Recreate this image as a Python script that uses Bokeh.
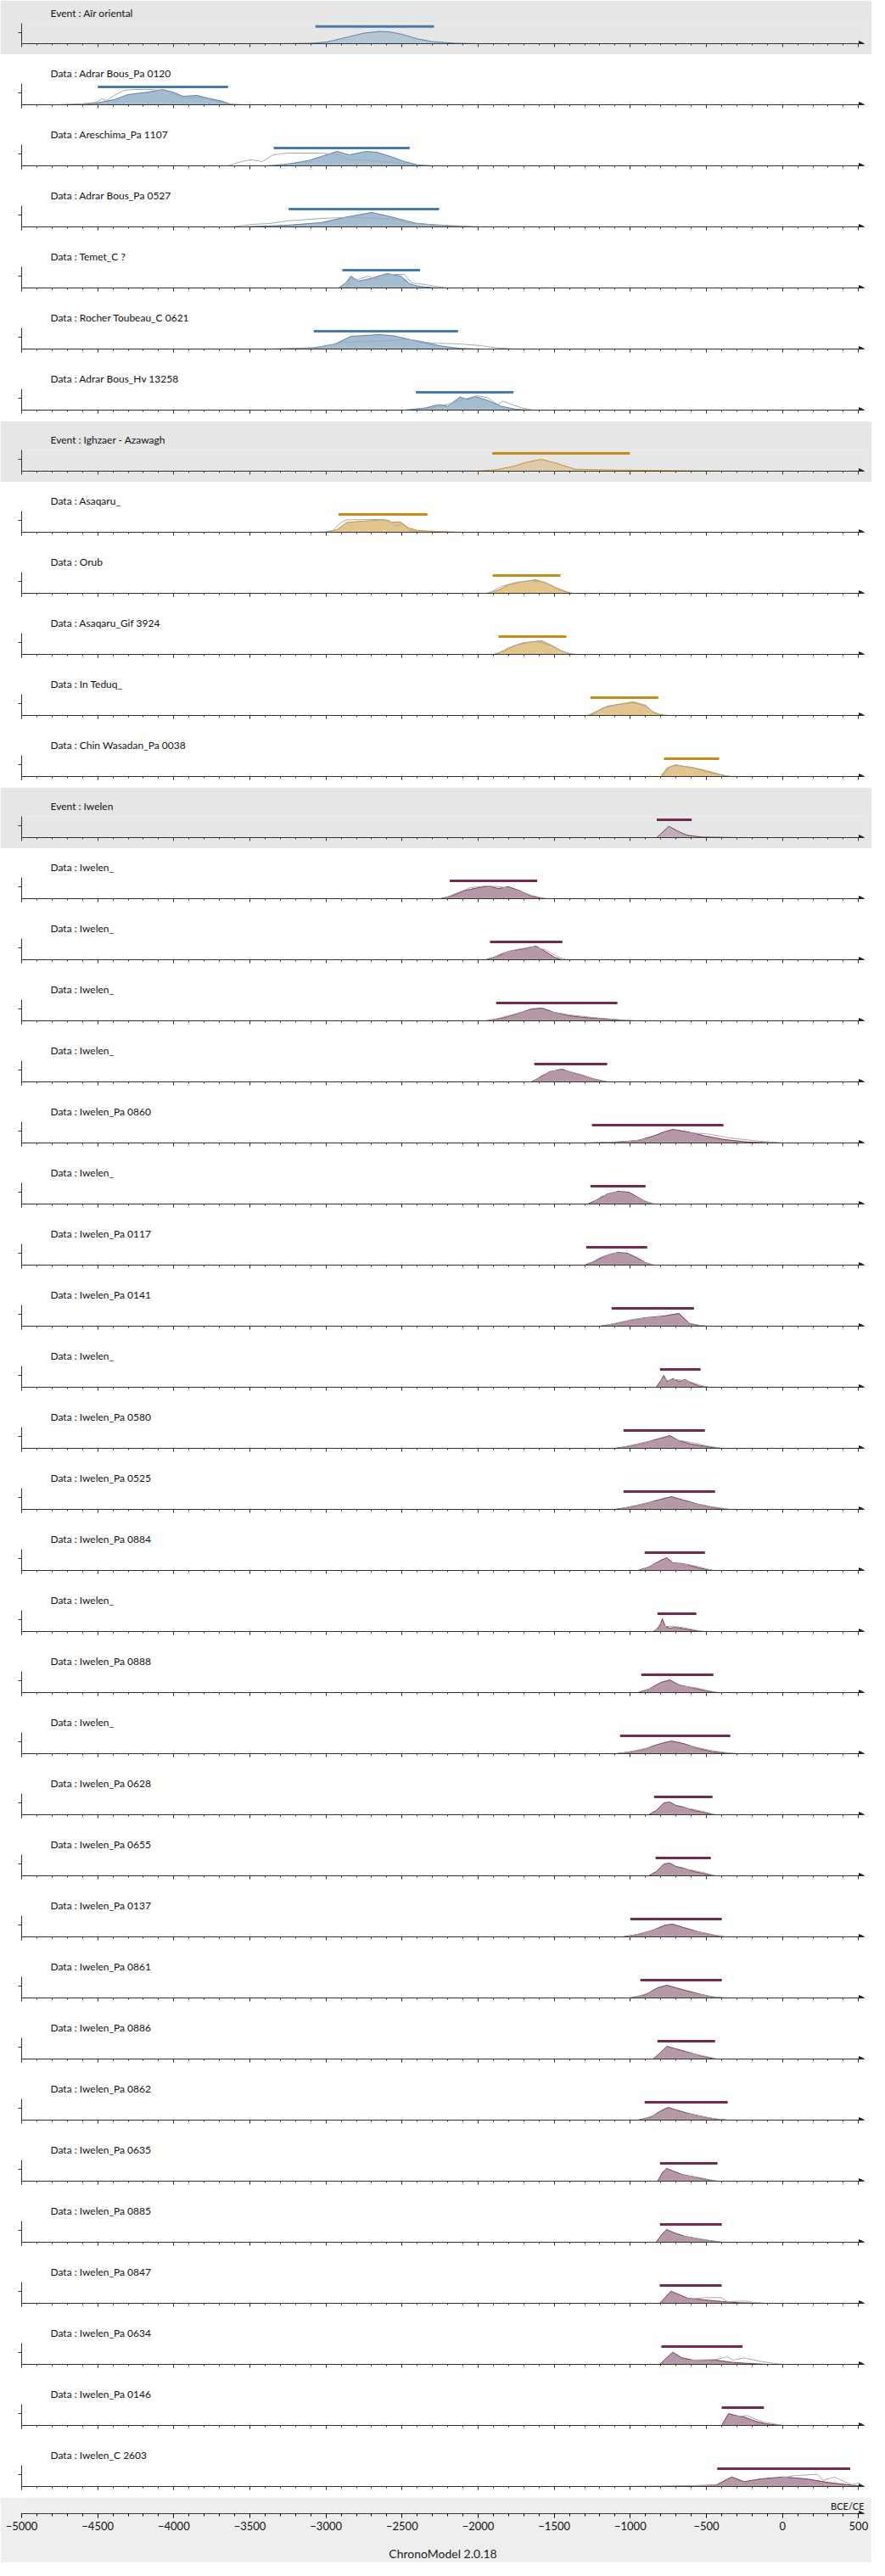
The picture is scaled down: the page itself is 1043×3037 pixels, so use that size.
from bokeh.plotting import figure
from bokeh.layouts import column
from bokeh.models import (Range1d, SingleIntervalTicker, FixedTicker, Arrow, NormalHead, Label,
                          CustomLabelingPolicy)
from bokeh.embed import file_html
from bokeh.resources import INLINE

# ---------------- data ----------------
labels = [
    "Event : Aïr oriental", "Data : Adrar Bous_Pa 0120", "Data : Areschima_Pa 1107",
    "Data : Adrar Bous_Pa 0527", "Data : Temet_C ?", "Data : Rocher Toubeau_C 0621",
    "Data : Adrar Bous_Hv 13258",
    "Event : Ighzaer - Azawagh", "Data : Asaqaru_", "Data : Orub", "Data : Asaqaru_Gif 3924",
    "Data : In Teduq_", "Data : Chin Wasadan_Pa 0038",
    "Event : Iwelen", "Data : Iwelen_", "Data : Iwelen_", "Data : Iwelen_", "Data : Iwelen_",
    "Data : Iwelen_Pa 0860", "Data : Iwelen_", "Data : Iwelen_Pa 0117", "Data : Iwelen_Pa 0141",
    "Data : Iwelen_", "Data : Iwelen_Pa 0580", "Data : Iwelen_Pa 0525", "Data : Iwelen_Pa 0884",
    "Data : Iwelen_", "Data : Iwelen_Pa 0888", "Data : Iwelen_", "Data : Iwelen_Pa 0628",
    "Data : Iwelen_Pa 0655", "Data : Iwelen_Pa 0137", "Data : Iwelen_Pa 0861",
    "Data : Iwelen_Pa 0886", "Data : Iwelen_Pa 0862", "Data : Iwelen_Pa 0635",
    "Data : Iwelen_Pa 0885", "Data : Iwelen_Pa 0847", "Data : Iwelen_Pa 0634",
    "Data : Iwelen_Pa 0146", "Data : Iwelen_C 2603",
]
groups = [0] * 7 + [1] * 6 + [2] * 28

hpd_start = [-3070, -4500, -3343, -3245, -2893, -3080, -2409,
             -1907, -2918, -1905, -1866, -1262, -779,
             -826, -2186, -1921, -1882, -1631, -1252, -1262, -1290, -1123, -805, -1045,
             -1045, -906, -822, -928, -1067, -844, -834, -1000, -934, -822, -906, -805,
             -805, -807, -796, -400, -429]
hpd_end = [-2290, -3643, -2450, -2257, -2382, -2132, -1768,
           -1003, -2333, -1459, -1420, -816, -416,
           -597, -1612, -1446, -1085, -1152, -388, -900, -889, -582, -538, -510,
           -443, -510, -566, -454, -343, -460, -471, -399, -399, -443, -360, -427,
           -399, -400, -263, -122, 445]

# posterior densities (year, density)
density = [
    [(-3300, 0), (-3100, 0.5), (-3000, 2), (-2950, 4), (-2860, 8), (-2750, 13), (-2650, 15), (-2580, 14.5), (-2500, 11.5), (-2400, 6), (-2300, 2.5), (-2150, 0.6), (-2000, 0)],
    [(-4760, 0), (-4620, 0.8), (-4507, 2), (-4393, 6), (-4302, 12), (-4166, 15), (-4075, 18), (-4007, 15), (-3939, 10), (-3848, 11), (-3780, 8), (-3689, 4.5), (-3620, 0.5), (-3530, 0)],
    [(-3400, 0), (-3348, 0.5), (-3257, 2), (-3120, 6), (-3030, 11), (-2927, 17), (-2848, 13), (-2734, 17), (-2666, 16), (-2575, 11), (-2484, 5), (-2393, 1), (-2302, 0)],
    [(-3550, 0), (-3484, 0.5), (-3257, 2), (-3030, 5), (-2870, 11.5), (-2700, 17), (-2575, 12), (-2416, 4.5), (-2234, 1.6), (-2120, 0.5), (-2000, 0)],
    [(-2916, 0), (-2870, 6), (-2836, 14), (-2791, 8), (-2711, 11), (-2598, 17), (-2507, 14), (-2450, 5), (-2393, 2), (-2302, 0.5), (-2230, 0)],
    [(-3348, 0), (-3075, 1.6), (-2939, 6), (-2836, 15), (-2643, 17), (-2552, 15.5), (-2393, 9), (-2234, 3.3), (-2120, 0.8), (-2000, 0)],
    [(-2484, 0), (-2348, 2.5), (-2257, 6.5), (-2200, 4.5), (-2120, 15.5), (-2075, 12.7), (-2018, 16), (-1939, 11.5), (-1848, 4.5), (-1757, 1.2), (-1670, 0)],
    [(-2700, 0), (-2300, 0.2), (-1992, 0.3), (-1881, 1.7), (-1770, 5.7), (-1678, 10.7), (-1585, 14), (-1492, 9.7), (-1363, 2.3), (-1104, 1.3), (-733, 0.7), (-363, 0.2), (-180, 0)],
    [(-3100, 0), (-2992, 0.3), (-2926, 3.3), (-2863, 11.7), (-2733, 13.3), (-2622, 15), (-2567, 11.7), (-2511, 12.3), (-2456, 5), (-2400, 2.3), (-2289, 1), (-2100, 0)],
    [(-1950, 0), (-1880, 3), (-1800, 10), (-1700, 14), (-1620, 16), (-1550, 12), (-1480, 6), (-1420, 2), (-1380, 0)],
    [(-1900, 0), (-1830, 4), (-1750, 11), (-1650, 15), (-1580, 16), (-1520, 11), (-1450, 4), (-1400, 1), (-1350, 0)],
    [(-1280, 0), (-1220, 5), (-1150, 11), (-1050, 14), (-980, 16), (-900, 12), (-850, 4), (-800, 1), (-750, 0)],
    [(-800, 0), (-760, 10), (-700, 14), (-650, 12), (-580, 10), (-500, 6), (-430, 3), (-380, 1), (-330, 0)],
    [(-826, 0), (-747, 13.3), (-685, 7.3), (-630, 3), (-535, 0.7), (-402, 0.3), (-300, 0)],
    [(-2250, 0), (-2180, 3), (-2100, 9), (-2000, 13), (-1930, 15), (-1870, 12), (-1800, 14), (-1720, 9), (-1650, 3), (-1600, 1), (-1550, 0)],
    [(-1950, 0), (-1880, 4), (-1800, 10), (-1700, 13), (-1620, 16), (-1560, 10), (-1500, 3), (-1450, 0)],
    [(-1950, 0), (-1850, 3), (-1750, 8), (-1650, 14), (-1580, 15), (-1500, 10), (-1400, 6), (-1300, 4), (-1150, 2), (-1000, 0)],
    [(-1650, 0), (-1600, 5), (-1530, 12), (-1450, 15), (-1380, 11), (-1300, 7), (-1230, 3), (-1150, 0)],
    [(-1300, 0), (-1100, 1), (-950, 3), (-850, 8), (-780, 13), (-720, 16), (-620, 13), (-500, 8), (-380, 4), (-220, 1), (0, 0)],
    [(-1280, 0), (-1220, 5), (-1150, 12), (-1080, 15), (-1010, 14), (-950, 8), (-900, 3), (-850, 0)],
    [(-1300, 0), (-1230, 5), (-1150, 12), (-1080, 15), (-1020, 14), (-960, 9), (-900, 3), (-850, 0)],
    [(-1200, 0), (-1100, 3), (-1000, 7), (-900, 10), (-780, 12), (-680, 15), (-610, 3), (-550, 1), (-500, 0)],
    [(-830, 0), (-800, 8), (-780, 14), (-760, 7), (-720, 10), (-680, 7), (-640, 9), (-600, 5), (-540, 1), (-500, 0)],
    [(-1100, 0), (-1000, 3), (-900, 7), (-800, 12), (-740, 15), (-680, 9), (-600, 5), (-500, 2), (-400, 0)],
    [(-1100, 0), (-1000, 3), (-900, 7), (-800, 12), (-730, 15), (-650, 11), (-550, 6), (-450, 2), (-350, 0)],
    [(-950, 0), (-880, 4), (-800, 12), (-760, 15), (-720, 9), (-650, 8), (-570, 4), (-500, 1), (-450, 0)],
    [(-850, 0), (-810, 5), (-790, 15), (-770, 6), (-740, 4), (-700, 5), (-640, 3), (-570, 1), (-520, 0)],
    [(-950, 0), (-880, 4), (-800, 12), (-740, 15), (-680, 9), (-600, 6), (-500, 2), (-430, 0)],
    [(-1100, 0), (-1000, 2), (-900, 6), (-800, 12), (-730, 15), (-650, 12), (-550, 6), (-450, 2), (-350, 0.5), (-300, 0)],
    [(-880, 0), (-830, 5), (-780, 14), (-740, 15), (-700, 11), (-650, 9), (-580, 5), (-500, 2), (-450, 0)],
    [(-880, 0), (-830, 5), (-780, 14), (-740, 15), (-700, 11), (-650, 9), (-580, 5), (-500, 2), (-450, 0)],
    [(-1050, 0), (-950, 3), (-850, 8), (-770, 14), (-720, 15), (-650, 11), (-550, 6), (-450, 2), (-380, 0)],
    [(-1000, 0), (-900, 4), (-820, 12), (-760, 15), (-700, 12), (-620, 8), (-530, 4), (-450, 1), (-380, 0)],
    [(-850, 0), (-800, 8), (-760, 15), (-720, 13), (-660, 10), (-580, 6), (-500, 2), (-440, 0)],
    [(-950, 0), (-860, 4), (-800, 11), (-750, 15), (-700, 12), (-620, 8), (-520, 4), (-430, 1), (-360, 0)],
    [(-820, 0), (-790, 10), (-760, 15), (-720, 12), (-660, 8), (-580, 5), (-500, 2), (-430, 0)],
    [(-830, 0), (-790, 10), (-760, 15), (-710, 11), (-640, 7), (-550, 4), (-460, 1.5), (-400, 0)],
    [(-807, 0), (-733, 14.3), (-622, 6), (-437, 2.7), (-289, 0.7), (-100, 0)],
    [(-807, 0), (-722, 14.3), (-660, 7.7), (-585, 5), (-437, 5), (-326, 2.3), (-178, 0.7), (-100, 0)],
    [(-400, 0), (-355, 14), (-307, 11.7), (-252, 10), (-178, 5), (-104, 1.7), (0, 0)],
    [(-1103, 0), (-733, 0.3), (-437, 1.7), (-333, 11.3), (-252, 5.7), (-141, 9), (7, 11.3), (156, 9), (304, 4.7), (452, 1.7), (508, 0.5)],
]

# individual calibrated dates (year, density)
calibration = [
    [],
    [(-4620, 0.5), (-4507, 3), (-4473, 7), (-4439, 5), (-4393, 11), (-4325, 17), (-4257, 18), (-4166, 18), (-4075, 17), (-4007, 14), (-3939, 7), (-3848, 9), (-3780, 7), (-3712, 3.7), (-3643, 1.2), (-3600, 0)],
    [(-3643, 0), (-3575, 4), (-3530, 6), (-3484, 7), (-3416, 5), (-3348, 13), (-3257, 15), (-3030, 15), (-2916, 13), (-2848, 7), (-2734, 7), (-2575, 4), (-2461, 1.6), (-2350, 0)],
    [(-3620, 0), (-3484, 3), (-3370, 4), (-3257, 7), (-3030, 10), (-2802, 11.5), (-2575, 9.4), (-2461, 5), (-2348, 3), (-2120, 1.2), (-2000, 0)],
    [(-2870, 0), (-2836, 12), (-2791, 10), (-2723, 14), (-2666, 10), (-2575, 16), (-2484, 16), (-2439, 6), (-2348, 4), (-2280, 2), (-2210, 0)],
    [(-3370, 0), (-3075, 1), (-2870, 8), (-2689, 9), (-2461, 11.5), (-2302, 7), (-2120, 6), (-1984, 4), (-1893, 1.6), (-1760, 0)],
    [(-2348, 0.5), (-2257, 4.5), (-2166, 8.6), (-2098, 12.7), (-2007, 16.8), (-1939, 14.7), (-1871, 6.5), (-1836, 10.6), (-1791, 7.4), (-1712, 2.5), (-1640, 0)],
    [],
    [(-3010, 0), (-2955, 2.3), (-2900, 11.7), (-2863, 14.7), (-2659, 15), (-2585, 14), (-2548, 7), (-2493, 10), (-2456, 2.3), (-2370, 0)],
    [(-1930, 0), (-1850, 8), (-1750, 13), (-1650, 15), (-1560, 13), (-1480, 5), (-1400, 0)],
    [(-1880, 0), (-1800, 8), (-1700, 14), (-1600, 15), (-1520, 10), (-1440, 3), (-1380, 0)],
    [(-1260, 0), (-1180, 9), (-1080, 13), (-980, 15), (-900, 11), (-840, 3), (-780, 0)],
    [(-790, 0), (-740, 12), (-680, 13), (-600, 11), (-500, 7), (-420, 3), (-350, 0)],
    [],
    [(-2230, 0), (-2150, 6), (-2050, 13), (-1950, 15), (-1850, 14), (-1750, 10), (-1650, 4), (-1560, 0)],
    [(-1930, 0), (-1850, 7), (-1750, 12), (-1650, 15), (-1560, 12), (-1480, 4), (-1420, 0)],
    [(-1930, 0), (-1800, 6), (-1700, 11), (-1600, 12), (-1500, 10), (-1400, 7), (-1250, 4), (-1050, 1), (-950, 0)],
    [(-1640, 0), (-1580, 8), (-1500, 13), (-1420, 13), (-1330, 9), (-1250, 4), (-1150, 0)],
    [(-1250, 0), (-1000, 2), (-850, 6), (-750, 10), (-650, 12), (-500, 11), (-350, 6), (-200, 3), (0, 0)],
    [(-1260, 0), (-1190, 9), (-1100, 14), (-1020, 13), (-950, 7), (-880, 2), (-840, 0)],
    [(-1280, 0), (-1200, 9), (-1110, 14), (-1030, 13), (-960, 7), (-890, 2), (-840, 0)],
    [(-1180, 0), (-1080, 4), (-980, 8), (-880, 10), (-780, 11), (-700, 11), (-620, 4), (-520, 0)],
    [(-820, 0), (-790, 10), (-750, 8), (-700, 9), (-650, 8), (-600, 6), (-530, 2), (-480, 0)],
    [(-1080, 0), (-980, 4), (-880, 8), (-780, 10), (-700, 10), (-600, 7), (-500, 3), (-400, 0)],
    [(-1080, 0), (-980, 4), (-880, 8), (-780, 10), (-680, 10), (-580, 7), (-460, 3), (-350, 0)],
    [(-930, 0), (-860, 6), (-780, 10), (-700, 8), (-620, 7), (-540, 4), (-460, 0)],
    [(-840, 0), (-800, 10), (-770, 6), (-720, 6), (-660, 5), (-580, 2), (-520, 0)],
    [(-930, 0), (-850, 6), (-760, 10), (-680, 8), (-580, 6), (-480, 2), (-420, 0)],
    [(-1080, 0), (-980, 3), (-850, 8), (-720, 11), (-600, 9), (-480, 4), (-360, 1), (-300, 0)],
    [(-860, 0), (-800, 8), (-740, 10), (-680, 8), (-600, 7), (-500, 3), (-440, 0)],
    [(-860, 0), (-800, 8), (-740, 10), (-680, 8), (-600, 7), (-500, 3), (-440, 0)],
    [(-1030, 0), (-930, 4), (-820, 9), (-720, 10), (-620, 8), (-500, 4), (-380, 0)],
    [(-980, 0), (-880, 6), (-790, 10), (-700, 9), (-600, 6), (-480, 2), (-380, 0)],
    [(-840, 0), (-790, 9), (-740, 10), (-660, 8), (-560, 5), (-470, 2), (-430, 0)],
    [(-930, 0), (-840, 6), (-760, 10), (-680, 9), (-580, 6), (-460, 2), (-360, 0)],
    [(-810, 0), (-770, 9), (-720, 9), (-640, 7), (-540, 4), (-460, 1), (-420, 0)],
    [(-820, 0), (-770, 9), (-710, 8), (-620, 6), (-520, 3), (-430, 1), (-390, 0)],
    [(-770, 0), (-696, 6), (-585, 5.3), (-511, 6.7), (-400, 6.7), (-363, 2), (-252, 2.7), (-178, 0.7), (-120, 0)],
    [(-770, 0), (-696, 3.3), (-585, 5), (-437, 5.7), (-363, 9), (-326, 5), (-252, 7.7), (-141, 3.3), (-48, 1), (0, 0)],
    [(-380, 0), (-326, 10), (-233, 11.7), (-178, 7.3), (-122, 4), (-48, 1.7), (0, 0)],
    [(-880, 0), (-437, 1.3), (-289, 4), (-67, 8.3), (82, 13), (230, 14.3), (267, 7.3), (341, 11), (452, 2.3), (508, 4)],
]

group_colors = ["#4a7ba6", "#c98a1c", "#6e2d50"]
bg_event = "#e6e6e6"
bg_data = "#ffffff"
bg_axis = "#eeeeee"
FONT = "Lato"

X0, X1 = -5000, 537
W = 1027
ROW_H = 72

NO_LABELS = "for (const i of indices) indices.unset(i)\nreturn indices"


def hide_labels(axis):
    axis.major_label_policy = CustomLabelingPolicy(code=NO_LABELS)
    axis.major_label_text_font_size = "0px"
    axis.major_label_standoff = 0


rows = []
for i, lab in enumerate(labels):
    first = (i == 0)
    is_event = lab.startswith("Event")
    bg = bg_event if is_event else bg_data
    col = group_colors[groups[i]]
    top = 34 - (8 if first else 0)
    p = figure(width=W, height=ROW_H - (8 if first else 0), x_range=Range1d(X0, X1),
               y_range=Range1d(0, 25), output_backend="svg", toolbar_location=None,
               min_border_left=25, min_border_right=9, min_border_top=top,
               min_border_bottom=13, title=lab)
    p.background_fill_color = bg
    p.border_fill_color = bg
    p.outline_line_color = None
    p.grid.visible = False
    p.title.align = "left"
    p.title.offset = 34
    p.title.text_font = FONT
    p.title.text_font_size = "12px"
    p.title.text_font_style = "normal"
    p.title.text_color = "#111111"

    xa = p.xaxis[0]
    xa.ticker = SingleIntervalTicker(interval=500, num_minor_ticks=5)
    hide_labels(xa)
    xa.major_tick_in = 0
    xa.major_tick_out = 4
    xa.minor_tick_in = 0
    xa.minor_tick_out = 2
    xa.axis_line_color = "#333333"
    xa.major_tick_line_color = "#333333"
    xa.minor_tick_line_color = "#333333"

    ya = p.yaxis[0]
    ya.ticker = FixedTicker(ticks=[14])
    hide_labels(ya)
    ya.major_tick_in = 0
    ya.major_tick_out = 4
    ya.minor_tick_line_color = None
    ya.axis_line_color = "#333333"
    ya.major_tick_line_color = "#333333"

    dx = [a for a, b in density[i]]
    dy = [b for a, b in density[i]]
    p.varea(x=dx, y1=0, y2=dy, fill_color=col, fill_alpha=0.3 if is_event else 0.5)
    p.line(dx, dy, line_color=col, line_width=1, line_alpha=0.9)
    if calibration[i]:
        cx = [a for a, b in calibration[i]]
        cy = [b for a, b in calibration[i]]
        p.line(cx, cy, line_color="#a8a8a8", line_width=1)
    p.segment(x0=[hpd_start[i]], y0=[21], x1=[hpd_end[i]], y1=[21],
              line_color=col, line_width=3)
    p.add_layout(Arrow(end=NormalHead(size=6, fill_color="#222222", line_color="#222222"),
                       x_start=X1 - 20, y_start=0, x_end=X1, y_end=0,
                       line_color="#333333", line_width=1))
    rows.append(p)

# bottom axis
b = figure(width=W, height=77, x_range=Range1d(X0, X1), y_range=Range1d(0, 22),
           output_backend="svg", toolbar_location=None, min_border_left=25,
           min_border_right=9, min_border_top=0, min_border_bottom=55)
b.background_fill_color = bg_axis
b.border_fill_color = bg_axis
b.outline_line_color = None
b.grid.visible = False
b.yaxis.visible = False
bx = b.xaxis[0]
bx.ticker = SingleIntervalTicker(interval=500, num_minor_ticks=5)
bx.major_tick_in = 0
bx.major_tick_out = 5
bx.minor_tick_in = 0
bx.minor_tick_out = 3
bx.major_label_standoff = 4
bx.major_label_text_font = FONT
bx.major_label_text_font_size = "13px"
bx.major_label_text_color = "#111111"
bx.axis_line_color = "#333333"
bx.axis_label = "ChronoModel 2.0.18"
bx.axis_label_text_font = FONT
bx.axis_label_text_font_size = "14px"
bx.axis_label_text_font_style = "normal"
bx.axis_label_text_color = "#222222"
bx.axis_label_standoff = 16
b.add_layout(Label(x=X1, y=11, text="BCE/CE", text_align="right", text_baseline="middle",
                   text_font=FONT, text_font_size="11px", text_color="#111111"))
b.add_layout(Arrow(end=NormalHead(size=6, fill_color="#222222", line_color="#222222"),
                   x_start=X1 - 20, y_start=0, x_end=X1, y_end=0,
                   line_color="#333333", line_width=1))
rows.append(b)

layout = column(*rows, spacing=0)
open("out.html", "w").write(file_html(layout, INLINE))
